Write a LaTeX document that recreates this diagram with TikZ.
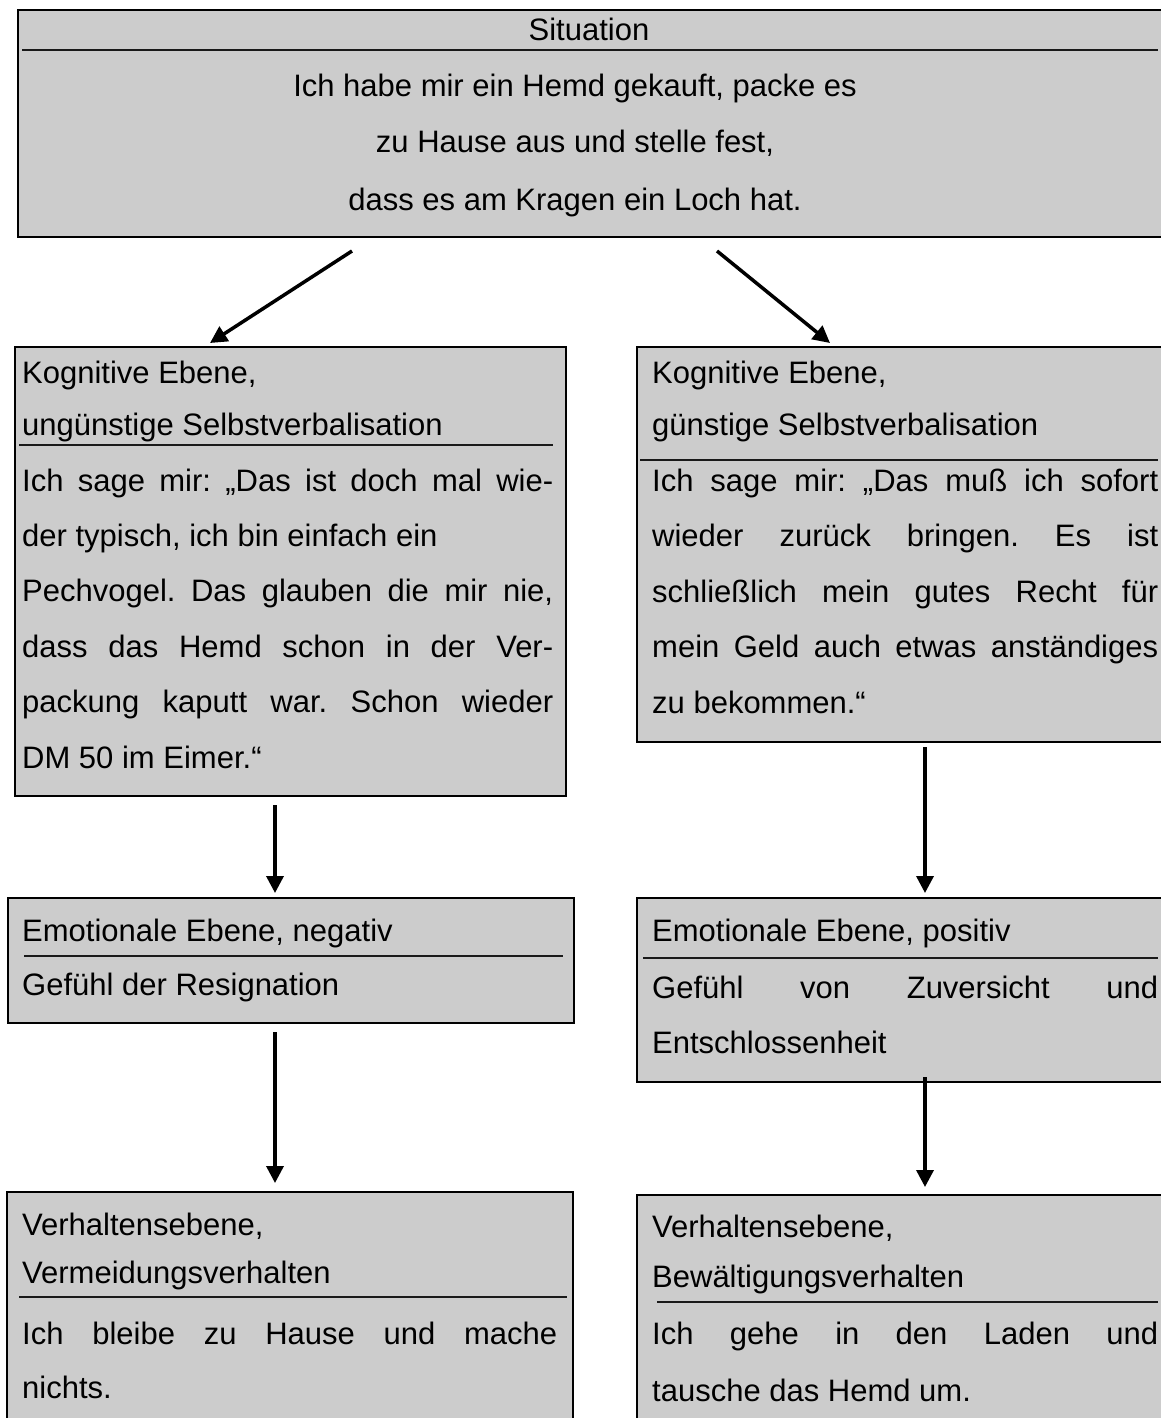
\documentclass[tikz,border=0pt]{standalone}
\usepackage{fontspec}
\setmainfont{Liberation Sans}
\usetikzlibrary{arrows.meta,calc}
\definecolor{boxgray}{HTML}{CCCCCC}
\tikzset{
  box/.style={draw=black, line width=2pt, fill=boxgray, rectangle, anchor=north west, inner sep=0pt},
  sepline/.style={line width=2.6pt, draw=black!90},
  txt/.style={inner sep=0pt, anchor=base west, font=\fontsize{31}{37}\selectfont\frenchspacing},
  ctxt/.style={inner sep=0pt, anchor=base, font=\fontsize{31}{37}\selectfont\frenchspacing},
  arr/.style={line width=3.5pt, -{Triangle[length=17pt,width=17pt]}}
}
\newcommand{\jline}[2]{\makebox[#1pt][s]{#2}}
\frenchspacing
\begin{document}
\begin{tikzpicture}[x=1pt,y=-1pt]
\useasboundingbox (0,0) rectangle (1161,1418);
\clip (0,0) rectangle (1161,1418);

% ---- Situation box
\node[box, minimum width=1170pt, minimum height=227pt] (S) at (17,9) {};
\draw[sepline] (22,50) -- (1158,50);
\node[ctxt] (s0) at (589,41) {Situation};
\node[ctxt] (s1) at (575,97) {Ich habe mir ein Hemd gekauft, packe es};
\node[ctxt] (s2) at (575,153) {zu Hause aus und stelle fest,};
\node[ctxt] (s3) at (575,210) {dass es am Kragen ein Loch hat.};

% ---- Kognitive Ebene, left
\node[box, minimum width=551pt, minimum height=449pt] (K1) at (14,346) {};
\node[txt] (k1a) at (22,383) {Kognitive Ebene,};
\node[txt] (k1b) at (22,435) {ungünstige Selbstverbalisation};
\draw[sepline] (19,445) -- (553,445);
\node[txt] (k1c) at (22,491) {\jline{531}{Ich sage mir: „Das ist doch mal wie-}};
\node[txt] (k1d) at (22,546) {der typisch, ich bin einfach ein};
\node[txt] (k1e) at (22,601) {\jline{531}{Pechvogel. Das glauben die mir nie,}};
\node[txt] (k1f) at (22,657) {\jline{531}{dass das Hemd schon in der Ver-}};
\node[txt] (k1g) at (22,712) {\jline{531}{packung kaputt war. Schon wieder}};
\node[txt] (k1h) at (22,768) {DM 50 im Eimer.“};

% ---- Kognitive Ebene, right
\node[box, minimum width=560pt, minimum height=395pt] (K2) at (636,346) {};
\node[txt] (k2a) at (652,383) {Kognitive Ebene,};
\node[txt] (k2b) at (652,435) {günstige Selbstverbalisation};
\draw[sepline] (640,460) -- (1158,460);
\node[txt] (k2c) at (652,491) {\jline{506}{Ich sage mir: „Das muß ich sofort}};
\node[txt] (k2d) at (652,546) {\jline{506}{wieder zurück bringen. Es ist}};
\node[txt] (k2e) at (652,602) {\jline{506}{schließlich mein gutes Recht für}};
\node[txt] (k2f) at (652,657) {\jline{506}{mein Geld auch etwas anständiges}};
\node[txt] (k2g) at (652,713) {zu bekommen.“};

% ---- Emotionale Ebene, left
\node[box, minimum width=566pt, minimum height=125pt] (E1) at (7,897) {};
\node[txt] (e1a) at (22,941) {Emotionale Ebene, negativ};
\draw[sepline] (24,956) -- (563,956);
\node[txt] (e1b) at (22,995) {Gefühl der Resignation};

% ---- Emotionale Ebene, right
\node[box, minimum width=560pt, minimum height=184pt] (E2) at (636,897) {};
\node[txt] (e2a) at (652,941) {Emotionale Ebene, positiv};
\draw[sepline] (643,958) -- (1158,958);
\node[txt] (e2b) at (652,998) {\jline{506}{Gefühl von Zuversicht und}};
\node[txt] (e2c) at (652,1053) {Entschlossenheit};

% ---- Verhaltensebene, left
\node[box, minimum width=566pt, minimum height=260pt] (V1) at (6,1191) {};
\node[txt] (v1a) at (22,1235) {Verhaltensebene,};
\node[txt] (v1b) at (22,1283) {Vermeidungsverhalten};
\draw[sepline] (19,1297) -- (567,1297);
\node[txt] (v1c) at (22,1344) {\jline{535}{Ich bleibe zu Hause und mache}};
\node[txt] (v1d) at (22,1398) {nichts.};

% ---- Verhaltensebene, right
\node[box, minimum width=560pt, minimum height=260pt] (V2) at (636,1194) {};
\node[txt] (v2a) at (652,1237) {Verhaltensebene,};
\node[txt] (v2b) at (652,1287) {Bewältigungsverhalten};
\draw[sepline] (657,1302) -- (1158,1302);
\node[txt] (v2c) at (652,1344) {\jline{506}{Ich gehe in den Laden und}};
\node[txt] (v2d) at (652,1401) {tausche das Hemd um.};

% ---- connectors
\coordinate (a1s) at ($(S.south west)+(335,13)$);
\coordinate (a1e) at ($(K1.north west)+(196,-3)$);
\coordinate (a2s) at ($(S.south west)+(700,13)$);
\coordinate (a2e) at ($(K2.north west)+(194,-3)$);
\draw[arr] (a1s) -- (a1e);
\draw[arr] (a2s) -- (a2e);

\coordinate (a3s) at ($(K1.south west)+(261,8)$);
\coordinate (a3e) at ($(E1.north west)+(268,-4)$);
\draw[arr] (a3s) -- (a3e);
\coordinate (a4s) at ($(K2.south west)+(289,4)$);
\coordinate (a4e) at ($(E2.north west)+(289,-4)$);
\draw[arr] (a4s) -- (a4e);

\coordinate (a5s) at ($(E1.south west)+(268,8)$);
\coordinate (a5e) at ($(V1.north west)+(269,-8)$);
\draw[arr] (a5s) -- (a5e);
\coordinate (a6s) at ($(E2.south west)+(289,-6)$);
\coordinate (a6e) at ($(V2.north west)+(289,-7)$);
\draw[arr] (a6s) -- (a6e);
\end{tikzpicture}
\end{document}
